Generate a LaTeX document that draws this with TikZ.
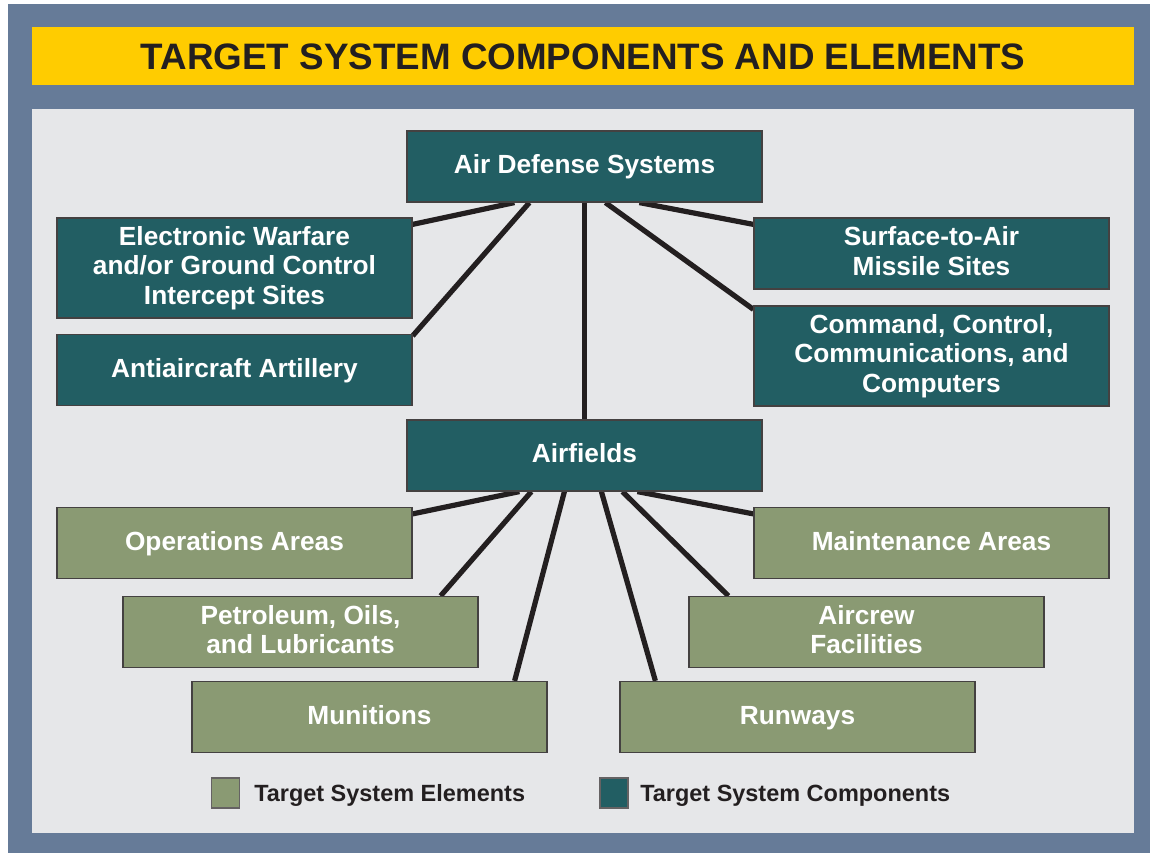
\documentclass[tikz,border=0pt]{standalone}
\usepackage{fontspec}
\setmainfont{Liberation Sans}
\usetikzlibrary{calc,backgrounds}
\definecolor{framebg}{HTML}{667B98}
\definecolor{titlebg}{HTML}{FFCC00}
\definecolor{panelbg}{HTML}{E6E7E9}
\definecolor{compfill}{HTML}{225E63}
\definecolor{elemfill}{HTML}{8A9A73}
\definecolor{inkdark}{HTML}{231F20}
\begin{document}
\begin{tikzpicture}[x=0.75pt,y=-0.75pt,
    box/.style={draw=inkdark!85, line width=0.9pt, text=white, align=center,
        font=\fontsize{19.7}{22}\selectfont\bfseries,
        execute at begin node={\rule{0pt}{15pt}},
        execute at end node={\rule[-3.9pt]{0pt}{3.9pt}},
        minimum width=266.25pt, minimum height=53.25pt, inner sep=0pt},
    comp/.style={box, fill=compfill},
    elem/.style={box, fill=elemfill},
    tall/.style={minimum height=75pt},
    link/.style={draw=inkdark, line width=3.9pt},
    keybox/.style={draw=inkdark!70, line width=0.8pt, minimum width=21pt, minimum height=22.5pt, inner sep=0pt},
    keytext/.style={anchor=base west, text=inkdark, font=\fontsize{17.6}{20}\selectfont\bfseries, inner sep=0pt}]
    \useasboundingbox (0,0) rectangle (1150,853);
    % Title
    \node[text=inkdark, font=\fontsize{27.6}{30}\selectfont\bfseries] (title) at (583,56.5) {TARGET SYSTEM COMPONENTS AND ELEMENTS};
    % Air defense components
    \node[comp] (ads) at (584.5,166.5) {Air Defense Systems};
    \node[comp, tall] (ew) at (234.5,268) {Electronic Warfare\\and/or Ground Control\\Intercept Sites};
    \node[comp] (aaa) at (234.5,370) {Antiaircraft Artillery};
    \node[comp] (sam) at (931.5,253.5) {Surface-to-Air\\Missile Sites};
    \node[comp, tall] (cfour) at (931.5,356) {Command, Control,\\Communications, and\\Computers};
    % Airfield elements
    \node[comp] (af) at (584.5,455.5) {Airfields};
    \node[elem] (ops) at (234.5,543) {Operations Areas};
    \node[elem] (mnt) at (931.5,543) {Maintenance Areas};
    \node[elem] (pol) at (300.5,632) {Petroleum, Oils,\\and Lubricants};
    \node[elem] (acf) at (866.5,632) {Aircrew\\Facilities};
    \node[elem] (mun) at (369.5,717) {Munitions};
    \node[elem] (rwy) at (797.5,717) {Runways};
    % Legend
    \node[keybox, fill=elemfill] (keyelem) at (225.5,793) {};
    \node[keytext] (keyelemtext) at (254,801) {Target System Elements};
    \node[keybox, fill=compfill] (keycomp) at (614,793) {};
    \node[keytext] (keycomptext) at (640,801) {Target System Components};
    \begin{scope}[on background layer]
        % Frame
        \fill[framebg] (8,4) rectangle (1150,853);
        \fill[titlebg] (32,27) rectangle (1134,85);
        \fill[panelbg] (32,109) rectangle (1134,833);
        % Air defense branches
        \draw[link] ($(ads.south west)+(108,0)$) -- ($(ew.north east)+(0,7)$);
        \draw[link] ($(ads.south west)+(123,0)$) -- ($(aaa.north east)+(0,2)$);
        \draw[link] (ads.south) -- (af.north);
        \draw[link] ($(ads.south west)+(199,0)$) -- ($(cfour.north west)+(0,4)$);
        \draw[link] ($(ads.south west)+(233,0)$) -- ($(sam.north west)+(0,7)$);
        % Airfield branches
        \draw[link] ($(af.south west)+(113,0)$) -- ($(ops.north east)+(0,7)$);
        \draw[link] ($(af.south west)+(125,0)$) -- ($(pol.north east)+(-38,0)$);
        \draw[link] ($(af.south west)+(158,0)$) -- ($(mun.north east)+(-33,0)$);
        \draw[link] ($(af.south west)+(195,0)$) -- ($(rwy.north west)+(36,0)$);
        \draw[link] ($(af.south west)+(216,0)$) -- ($(acf.north west)+(40,0)$);
        \draw[link] ($(af.south west)+(231,0)$) -- ($(mnt.north west)+(0,7)$);
    \end{scope}
\end{tikzpicture}
\end{document}
